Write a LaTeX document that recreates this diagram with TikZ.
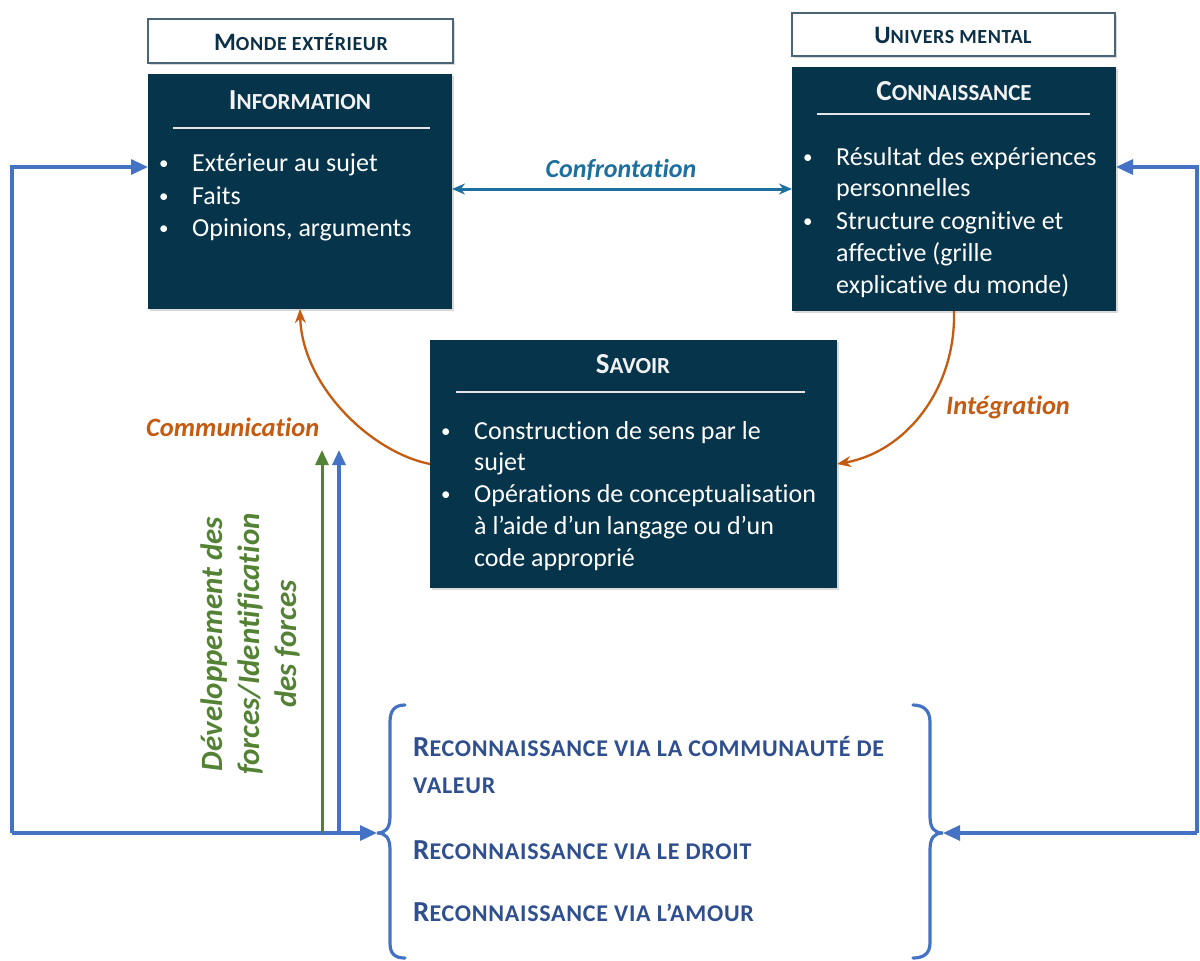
\documentclass[tikz,border=0pt]{standalone}
\usepackage{fontspec}
\setmainfont{Carlito}[Ligatures=NoCommon]
\newfontfamily\spacedfont{Carlito}[Ligatures=NoCommon, LetterSpace=3]
\usetikzlibrary{arrows.meta,shadows}

\definecolor{boxdark}{HTML}{06344B}
\definecolor{hdrborder}{HTML}{4A6577}
\definecolor{hdrtext}{HTML}{0B3047}
\definecolor{loopblue}{HTML}{4472C4}
\definecolor{forcegreen}{HTML}{548235}
\definecolor{arcorange}{HTML}{C55A11}
\definecolor{confteal}{HTML}{1D6FA0}
\definecolor{recoblue}{HTML}{2F4F8F}

% first letter large, the rest as capitals in a smaller size
\newcommand{\fakesc}[4]{{\fontsize{#1}{#1}\selectfont #3}{\fontsize{#2}{#2}\selectfont #4}}
\newcommand{\itemdot}{{\fontsize{19}{19}\selectfont •}}

\tikzset{
  darkbox/.style={rectangle, fill=boxdark, draw=none, outer sep=0pt, inner sep=0pt, anchor=north west,
    drop shadow={opacity=0.3, shadow xshift=2pt, shadow yshift=-2pt}},
  hdrbox/.style={rectangle, fill=white, draw=hdrborder, line width=1.5pt, outer sep=0pt, inner sep=0pt,
    drop shadow={opacity=0.3, shadow xshift=2pt, shadow yshift=-2pt}},
  hdrlabel/.style={text=hdrtext, font=\bfseries\spacedfont, inner sep=0pt, anchor=base},
  boxtitle/.style={text=white!95!black, font=\bfseries, inner sep=0pt, anchor=base},
  bodytext/.style={text=white, font=\fontsize{26}{32}\selectfont, inner sep=0pt, anchor=base west},
  bulletmark/.style={text=white, inner sep=0pt, anchor=base west},
  rulewhite/.style={draw=white!90!black, line width=1.2pt},
  loopline/.style={draw=loopblue, line width=3.2pt},
  bluehead/.style={-{Triangle[length=17pt,width=15pt]}},
  arclink/.style={draw=arcorange, line width=2.3pt, -{Stealth[length=14pt,width=11pt]}},
  arclabel/.style={text=arcorange, font=\fontsize{26.5}{30}\selectfont\bfseries\itshape, inner sep=0pt, anchor=base west},
  bracepath/.style={draw=loopblue, line width=3.2pt, line cap=round},
  recolabel/.style={text=recoblue, font=\bfseries\spacedfont, inner sep=0pt, anchor=base west},
}

\begin{document}
\begin{tikzpicture}[x=1pt,y=-1pt]
\useasboundingbox (0,0) rectangle (1200,961);

% ---- header boxes
\node[hdrbox, anchor=north west, minimum width=305pt, minimum height=44pt] (mondebox) at (148,19) {};
\node[hdrlabel] (mondelbl) at (301,50) {\fakesc{25}{20}{M}{ONDE EXTÉRIEUR}};
\node[hdrbox, anchor=north west, minimum width=323pt, minimum height=43pt] (univbox) at (792,13) {};
\node[hdrlabel] (univlbl) at (953,43) {\fakesc{25}{20}{U}{NIVERS MENTAL}};

% ---- Information
\node[darkbox, minimum width=304pt, minimum height=235pt] (info) at (148,74) {};
\node[boxtitle] (infotitle) at (300,109) {\fakesc{29}{23}{I}{NFORMATION}};
\draw[rulewhite] (173,128) -- (430,128);
\node[bulletmark] (ib1) at (159,169) {\itemdot};
\node[bodytext] (it1) at (192,171) {Extérieur au sujet};
\node[bulletmark] (ib2) at (159,202) {\itemdot};
\node[bodytext] (it2) at (192,204) {Faits};
\node[bulletmark] (ib3) at (159,234) {\itemdot};
\node[bodytext] (it3) at (192,236) {Opinions, arguments};

% ---- Connaissance
\node[darkbox, minimum width=324pt, minimum height=244pt] (conn) at (792,67) {};
\node[boxtitle] (conntitle) at (954,100) {\fakesc{29}{23}{C}{ONNAISSANCE}};
\draw[rulewhite] (817,114) -- (1090,114);
\node[bulletmark] (cb1) at (803,163) {\itemdot};
\node[bodytext] (ct1) at (836,165) {Résultat des expériences};
\node[bodytext] (ct1b) at (836,196) {personnelles};
\node[bulletmark] (cb2) at (803,227) {\itemdot};
\node[bodytext] (ct2) at (836,229) {Structure cognitive et};
\node[bodytext] (ct2b) at (836,261) {affective (grille};
\node[bodytext] (ct2c) at (836,293) {explicative du monde)};

% ---- Savoir
\node[darkbox, minimum width=407pt, minimum height=248pt] (savoir) at (430,340) {};
\node[boxtitle] (savtitle) at (633,373) {\fakesc{29}{23}{S}{AVOIR}};
\draw[rulewhite] (456,392) -- (805,392);
\node[bulletmark] (sb1) at (441,437) {\itemdot};
\node[bodytext] (st1) at (474,439) {Construction de sens par le};
\node[bodytext] (st1b) at (474,470) {sujet};
\node[bulletmark] (sb2) at (441,500) {\itemdot};
\node[bodytext] (st2) at (474,502) {Opérations de conceptualisation};
\node[bodytext] (st2b) at (474,534) {à l’aide d’un langage ou d’un};
\node[bodytext] (st2c) at (474,566) {code approprié};

% ---- Confrontation
\coordinate (confy) at (0,189);
\draw[draw=confteal, line width=3pt, {Stealth[length=13pt,width=11pt]}-{Stealth[length=13pt,width=11pt]}]
  (info.east |- confy) -- (conn.west |- confy);
\node[text=confteal, font=\fontsize{26}{30}\selectfont\bfseries\itshape, inner sep=0pt, anchor=base] (conflbl) at (621,177) {Confrontation};

% ---- curved links
\coordinate (savW) at (430,464);
\coordinate (savE) at (837,464);
\coordinate (infoS) at (300,309);
\coordinate (connS) at (954,311);
\draw[arclink] (savW) .. controls (370,452) and (302,385) .. (infoS);
\draw[arclink] (connS) .. controls (956,390) and (905,452) .. (savE);
\node[arclabel] (commlbl) at (146,436) {Communication};
\node[arclabel] (integlbl) at (946,414) {Intégration};

% ---- braces
\coordinate (lcusp) at (377,833);
\coordinate (rcusp) at (943,833);
\draw[bracepath] (405,705) .. controls (395,705) and (390,710) .. (390,722) -- (390,816)
  .. controls (390,828) and (386,833) .. (lcusp)
  .. controls (386,833) and (390,838) .. (390,850) -- (390,943)
  .. controls (390,954) and (395,958) .. (405,958);
\draw[bracepath] (913,705) .. controls (923,705) and (930,710) .. (930,722) -- (930,816)
  .. controls (930,828) and (934,833) .. (rcusp)
  .. controls (934,833) and (930,838) .. (930,850) -- (930,943)
  .. controls (930,954) and (923,958) .. (913,958);

% ---- reconnaissance labels
\node[recolabel] (reco1) at (413,756) {\fakesc{29}{24}{R}{ECONNAISSANCE VIA LA COMMUNAUTÉ DE}};
\node[recolabel] (reco1b) at (413,793) {\fakesc{29}{24}{}{VALEUR}};
\node[recolabel] (reco2) at (413,859) {\fakesc{29}{24}{R}{ECONNAISSANCE VIA LE DROIT}};
\node[recolabel] (reco3) at (413,921) {\fakesc{29}{24}{R}{ECONNAISSANCE VIA L’AMOUR}};

% ---- feedback loops
\coordinate (lb) at (12,833);
\coordinate (lt) at (12,167);
\coordinate (rb) at (1197,833);
\coordinate (rt) at (1197,167);
\draw[loopline, bluehead, line join=miter] (lb) -- (lt) -- (info.west |- lt);
\draw[loopline, bluehead] (lb) -- (lcusp);
\draw[loopline, bluehead, line join=miter] (rb) -- (rt) -- (conn.east |- rt);
\draw[loopline, bluehead] (rb) -- (rcusp);

% ---- vertical arrows
\coordinate (gbot) at (322,833);
\coordinate (gtop) at (322,450);
\coordinate (bbot) at (339,833);
\coordinate (btop) at (339,450);
\draw[draw=forcegreen, line width=3pt, -{Triangle[length=15pt,width=13pt]}] (gbot) -- (gtop);
\draw[loopline, -{Triangle[length=15pt,width=13pt]}] (bbot) -- (btop);

\node[text=forcegreen, font=\fontsize{31}{37}\selectfont\bfseries\itshape, rotate=90, align=center, inner sep=0pt] (forceslbl) at (250,644)
  {Développement des\\forces/Identification\\des forces};

\end{tikzpicture}
\end{document}
